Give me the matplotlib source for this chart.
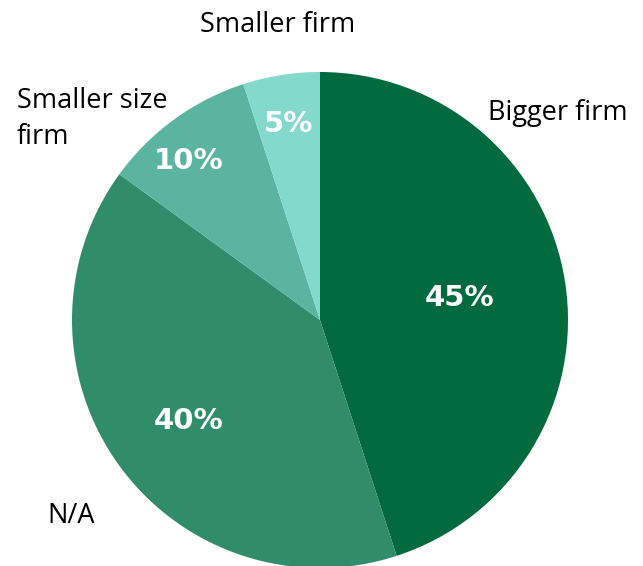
import matplotlib.pyplot as plt
import numpy as np

# firm size preference shares (%)
categories = ['Bigger firm', 'N/A', 'Smaller size\nfirm', 'Smaller firm']
shares = [45, 40, 10, 5]
colors = ['#016a3f', '#318c6c', '#5bb4a0', '#84d9cd']

W, H = 643, 566
cx, cy, r = 320, H - 320, 248

fig = plt.figure(figsize=(6.43, 5.66), dpi=100)
ax = fig.add_axes([0, 0, 1, 1])

wedges, texts, autotexts = ax.pie(
    shares, colors=colors, startangle=90, counterclock=False,
    center=(cx, cy), radius=r, autopct='%d%%', frame=True,
    wedgeprops=dict(linewidth=0),
    textprops=dict(color='white', fontsize=21, fontweight='bold',
                   family='DejaVu Sans'))
ax.set_xlim(0, W)
ax.set_ylim(0, H)
ax.set_aspect('equal')
ax.axis('off')

# percentage labels sit at different depths / angles inside each slice
pct_dist = [0.57, 0.67, 0.83, 0.80]
pct_turn = [0, 1.5, 3.5, 0]
for w, t, d, a in zip(wedges, autotexts, pct_dist, pct_turn):
    mid = np.deg2rad((w.theta1 + w.theta2) / 2 + a)
    t.set_position((cx + d * r * np.cos(mid), cy + d * r * np.sin(mid)))

label_font = dict(fontsize=19.5, color='black', family='Open Sans')
ax.text(488, H - 113, categories[0], ha='left', va='center', **label_font)
ax.text(47, H - 516, categories[1], ha='left', va='center', **label_font)
ax.text(17, H - 119, categories[2], ha='left', va='center', linespacing=1.38, **label_font)
ax.text(278, H - 25, categories[3], ha='center', va='center', **label_font)

plt.savefig('out.png', dpi=100)
